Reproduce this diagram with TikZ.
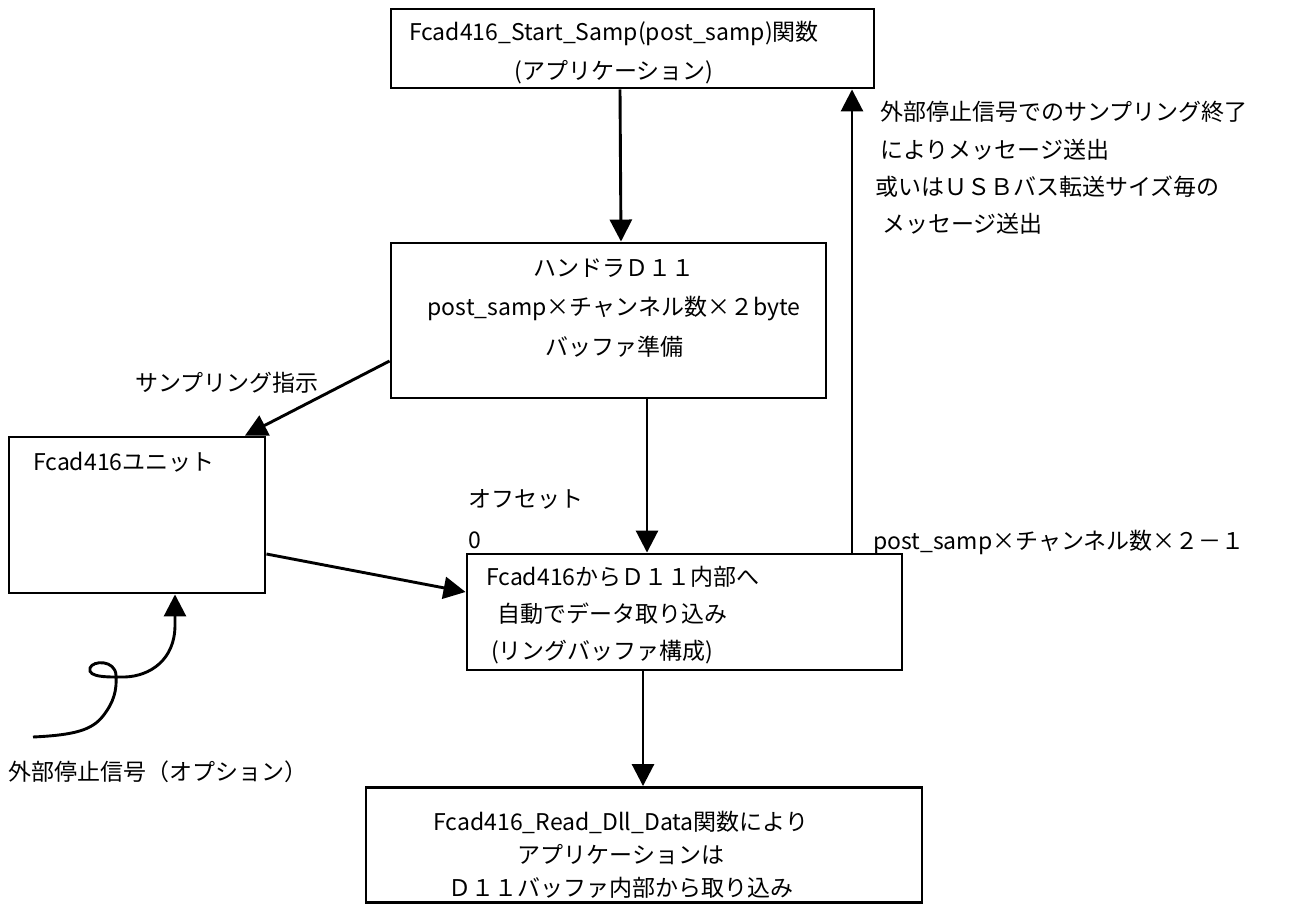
\documentclass[tikz,border=0pt]{standalone}
\usepackage{fontspec}
\setmainfont{Noto Sans CJK JP}
\usetikzlibrary{arrows.meta}
\begin{document}
\begin{tikzpicture}[x=1pt,y=-1pt,
  box/.style={draw, line width=2.9pt, inner sep=0pt, anchor=center},
  lbl/.style={inner sep=0pt, font=\fontsize{23pt}{37pt}\selectfont},
  arr/.style={line width=2.9pt, -{Triangle[length=22pt,width=22pt]}}
]
\useasboundingbox (0,0) rectangle (1302,905);
% boxes
\node[box, minimum width=483pt, minimum height=79pt] (top) at (632.5,48.5) {};
\node[box, minimum width=435pt, minimum height=155pt] (hand) at (608.5,320.5) {};
\node[box, minimum width=256pt, minimum height=156pt] (unit) at (137,515) {};
\node[box, minimum width=435pt, minimum height=116pt] (dll) at (684.5,612) {};
\node[box, minimum width=556pt, minimum height=115pt] (read) at (644,845) {};
% box texts
\node[lbl, align=center, font=\fontsize{23pt}{39pt}\selectfont] (toptxt) at (614,52.5)
  {Fcad416\_Start\_Samp(post\_samp)関数\\(アプリケーション)};
\node[lbl, align=center, font=\fontsize{23pt}{39.5pt}\selectfont] (handtxt) at (614,308)
  {ハンドラＤ１１\\post\_samp×チャンネル数×２byte\\バッファ準備};
\node[lbl, anchor=west] (unittxt) at (33,462) {Fcad416ユニット};
\node[lbl, align=left, anchor=west] (dlltxt) at (486,615)
  {Fcad416からＤ１１内部へ\\\hspace*{11pt}自動でデータ取り込み\\\hspace*{5pt}(リングバッファ構成)};
\node[lbl, align=center, font=\fontsize{23pt}{33pt}\selectfont] (readtxt) at (621,855)
  {Fcad416\_Read\_Dll\_Data関数により\\アプリケーションは\\Ｄ１１バッファ内部から取り込み};
% free labels
\node[lbl, anchor=west] (samplbl) at (135,383) {サンプリング指示};
\node[lbl, anchor=west] (extlbl) at (8,772) {外部停止信号（オプション）};
\node[lbl, align=left, anchor=west, font=\fontsize{23pt}{41pt}\selectfont] (offlbl) at (468,519.5) {オフセット\\0};
\node[lbl, anchor=west] (endlbl) at (873,542) {post\_samp×チャンネル数×２－１};
\node[lbl, align=left, anchor=west, font=\fontsize{23pt}{37.3pt}\selectfont] (msglbl) at (875,168)
  {\hspace*{5pt}外部停止信号でのサンプリング終了\\\hspace*{5pt}によりメッセージ送出\\或いはＵＳＢバス転送サイズ毎の\\\hspace*{7pt}メッセージ送出};
% connectors
\draw[arr] ([xshift=-12.5pt]top.south) -- ([xshift=12.5pt]hand.north);
\draw[arr] ([xshift=38.5pt]hand.south) -- ([xshift=-37.5pt]dll.north);
\draw[arr] ([xshift=-41.5pt]dll.south) -- ([xshift=-1pt]read.north);
\draw[arr] ([xshift=167.5pt]dll.north) -- ([xshift=219.5pt]top.south);
\draw[arr] ([yshift=-40.5pt]hand.west) -- ([xshift=108pt]unit.north);
\draw[arr] ([yshift=-39pt]unit.east) -- ([yshift=20pt]dll.west);
\coordinate (sig) at (33,737);
\draw[arr] (sig) .. controls (75,735) and (92,730) .. (103,716)
  .. controls (114,702) and (117,690) .. (116,675)
  .. controls (115,660) and (93,660) .. (90,668)
  .. controls (87,678) and (110,677) .. (125,677)
  .. controls (150,676) and (175,660) .. (175,625)
  -- ([xshift=38pt]unit.south);
\end{tikzpicture}
\end{document}
